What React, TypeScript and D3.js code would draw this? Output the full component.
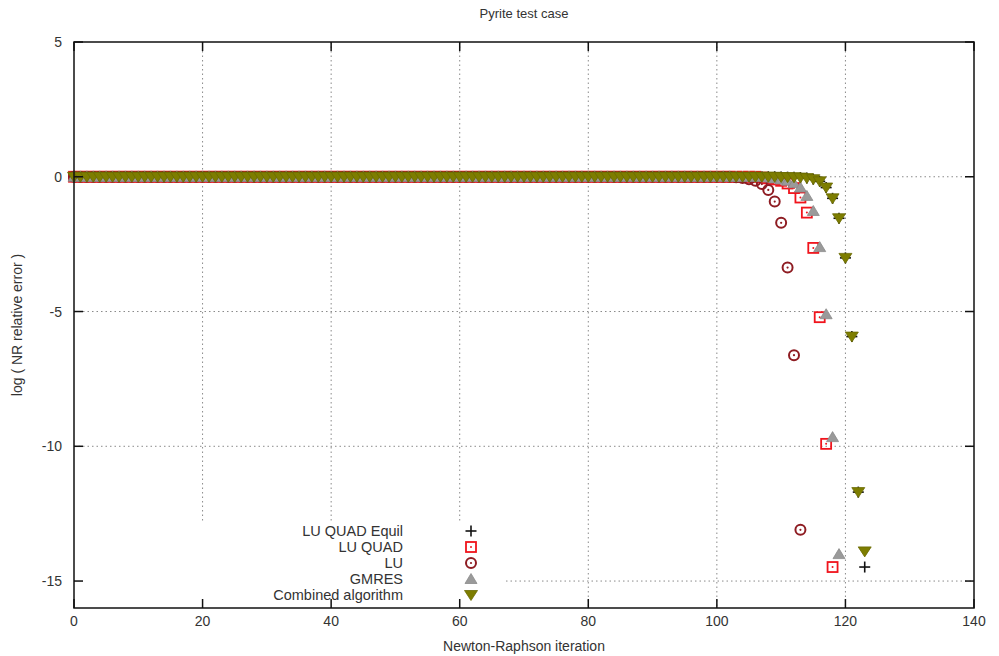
import React from "react";
import * as d3 from "d3";

// iterations before each tail all sit on log(err) = 0
const xTicks = [0, 20, 40, 60, 80, 100, 120, 140];
const yTicks = [5, 0, -5, -10, -15];

const equilStart = 110;
const equilTail = [-0.01, -0.015, -0.02, -0.03, -0.05, -0.09, -0.17, -0.4, -0.8, -1.54, -3.01, -5.93, -11.7, -14.48];
const quadStart = 107;
const quadTail = [-0.03, -0.06, -0.1, -0.15, -0.25, -0.42, -0.77, -1.33, -2.64, -5.21, -9.91, -14.48];
const luStart = 103;
const luTail = [-0.02, -0.05, -0.09, -0.15, -0.27, -0.49, -0.92, -1.71, -3.37, -6.62, -13.1];
const gmresStart = 108;
const gmresTail = [-0.03, -0.06, -0.1, -0.15, -0.24, -0.4, -0.71, -1.27, -2.61, -5.1, -9.66, -14.0];
const combStart = 110;
const combTail = [-0.01, -0.015, -0.02, -0.03, -0.05, -0.09, -0.17, -0.4, -0.8, -1.54, -3.01, -5.93, -11.7, -13.9];

const seriesNames = ["LU QUAD Equil", "LU QUAD", "LU", "GMRES", "Combined algorithm"];

const W = 999;
const H = 656;
const m = { left: 74, right: 974, top: 42, bottom: 608 };

const x = d3.scaleLinear().domain([0, 140]).range([m.left, m.right]);
const y = d3.scaleLinear().domain([-16, 5]).range([m.bottom, m.top]);

const build = (start: number, tail: number[]) =>
  d3.range(start).map((i) => ({ it: i, v: 0 })).concat(tail.map((v, i) => ({ it: start + i, v })));

const series = [
  build(equilStart, equilTail),
  build(quadStart, quadTail),
  build(luStart, luTail),
  build(gmresStart, gmresTail),
  build(combStart, combTail),
];

const Marker = ({ kind, cx, cy }: { kind: number; cx: number; cy: number }) => {
  if (kind === 0)
    return (
      <g stroke="#111" strokeWidth={1.6}>
        <line x1={cx - 5.5} x2={cx + 5.5} y1={cy} y2={cy} />
        <line x1={cx} x2={cx} y1={cy - 5.5} y2={cy + 5.5} />
      </g>
    );
  if (kind === 1)
    return (
      <g>
        <rect x={cx - 5} y={cy - 5} width={10} height={10} fill="none" stroke="#f0141c" strokeWidth={1.8} />
        <circle cx={cx} cy={cy} r={1} fill="#f0141c" />
      </g>
    );
  if (kind === 2)
    return (
      <g>
        <circle cx={cx} cy={cy} r={5} fill="none" stroke="#8e1c22" strokeWidth={2} />
        <circle cx={cx} cy={cy} r={1.1} fill="#8e1c22" />
      </g>
    );
  if (kind === 3)
    return <path d={`M${cx},${cy - 5.5}L${cx + 6},${cy + 4.5}L${cx - 6},${cy + 4.5}Z`} fill="#9a9a9a" stroke="#8a8a8a" strokeWidth={0.8} />;
  return <path d={`M${cx - 6.5},${cy - 4.5}L${cx + 6.5},${cy - 4.5}L${cx},${cy + 5.5}Z`} fill="#7d7d00" stroke="#6a6a00" strokeWidth={0.8} />;
};

export default function App() {
  const font = "'Liberation Sans', Arial, sans-serif";
  const legendY = [531, 547, 563, 579, 595];
  return (
    <svg width={W} height={H} style={{ position: "absolute", left: 0, top: 0, background: "#fff" }} fontFamily={font}>
      {/* grid */}
      <g stroke="#8a8a8a" strokeWidth={1} strokeDasharray="1.5,3">
        {xTicks.slice(1, -1).map((t) => (
          <line key={"gx" + t} x1={x(t)} x2={x(t)} y1={m.top} y2={m.bottom} />
        ))}
        {yTicks.slice(1).map((t) => (
          <line key={"gy" + t} x1={m.left} x2={m.right} y1={y(t)} y2={y(t)} />
        ))}
      </g>
      {/* key area blanks the grid */}
      <rect x={m.left + 1} y={521} width={505 - m.left - 1} height={m.bottom - 521 - 1} fill="#fff" />

      {/* data */}
      {series.map((s, k) => (
        <g key={k}>
          {s.map((d) => (
            <Marker key={d.it} kind={k} cx={x(d.it)} cy={y(d.v)} />
          ))}
        </g>
      ))}

      {/* frame and ticks */}
      <rect x={m.left} y={m.top} width={m.right - m.left} height={m.bottom - m.top} fill="none" stroke="#111" strokeWidth={1.5} />
      <g stroke="#111" strokeWidth={1.5}>
        {xTicks.map((t) => (
          <g key={"tx" + t}>
            <line x1={x(t)} x2={x(t)} y1={m.bottom} y2={m.bottom - 9} />
            <line x1={x(t)} x2={x(t)} y1={m.top} y2={m.top + 9} />
          </g>
        ))}
        {yTicks.map((t) => (
          <g key={"ty" + t}>
            <line x1={m.left} x2={m.left + 9} y1={y(t)} y2={y(t)} />
            <line x1={m.right} x2={m.right - 9} y1={y(t)} y2={y(t)} />
          </g>
        ))}
      </g>

      {/* tick labels */}
      <g fontSize={14} fill="#333">
        {xTicks.map((t) => (
          <text key={"lx" + t} x={x(t)} y={626} textAnchor="middle">
            {t}
          </text>
        ))}
        {yTicks.map((t) => (
          <text key={"ly" + t} x={62} y={y(t) + 5} textAnchor="end">
            {t}
          </text>
        ))}
      </g>

      {/* titles */}
      <text x={524} y={18} textAnchor="middle" fontSize={13} fill="#333">
        Pyrite test case
      </text>
      <text x={524} y={651} textAnchor="middle" fontSize={14} fill="#333">
        Newton-Raphson iteration
      </text>
      <text transform={`translate(22,${(m.top + m.bottom) / 2}) rotate(-90)`} textAnchor="middle" fontSize={14} fill="#333">
        log ( NR relative error )
      </text>

      {/* legend */}
      {seriesNames.map((n, i) => (
        <g key={n}>
          <text x={403} y={legendY[i] + 5} textAnchor="end" fontSize={14.5} fill="#333">
            {n}
          </text>
          <Marker kind={i} cx={471} cy={legendY[i]} />
        </g>
      ))}
    </svg>
  );
}
